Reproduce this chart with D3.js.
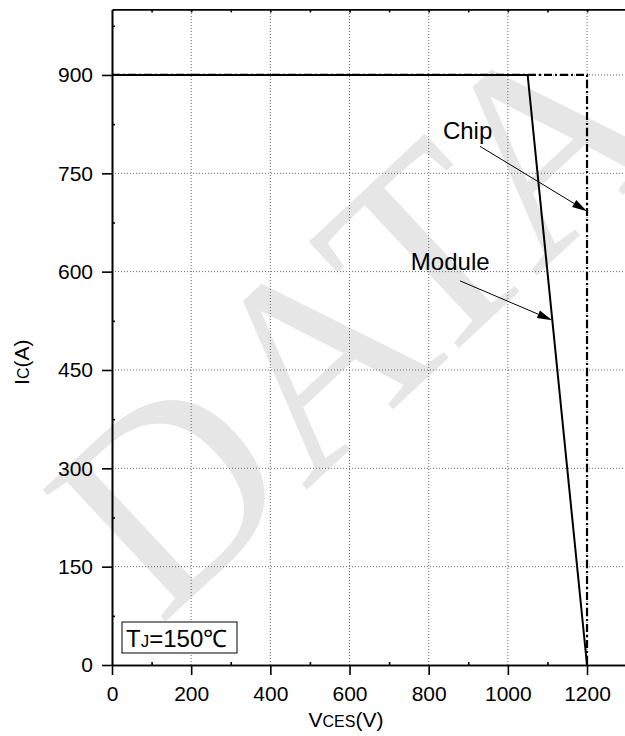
<!DOCTYPE html>
<html>
<head>
<meta charset="utf-8">
<script src="https://cdn.jsdelivr.net/npm/d3@7"></script>
<style>
  body { margin: 0; background: #fff; }
  svg { display: block; }
  text { font-family: Arial, "Liberation Sans", Helvetica, sans-serif; }
</style>
</head>
<body>
<svg id="chart" width="625" height="736"></svg>
<script>
// data (VCES in V, IC in A)
const moduleV = [0, 1050, 1200];
const moduleI = [900, 900, 0];
const chipV = [0, 1200, 1200];
const chipI = [900, 900, 0];

const xTicks = [0, 200, 400, 600, 800, 1000, 1200];
const yTicks = [0, 150, 300, 450, 600, 750, 900];

// annotations: label anchor, arrow tail, arrow head (data units)
const noteText = ['Chip', 'Module'];
const noteV = [836, 755];
const noteI = [803, 602];
const tailV = [930, 879];
const tailI = [791, 586];
const headV = [1200, 1112];
const headI = [692, 526];

const FONT = 'Arial, "Liberation Sans", Helvetica, sans-serif';

const svg = d3.select('#chart');

const x = d3.scaleLinear().domain([0, 1300]).range([112, 626.6]);
const y = d3.scaleLinear().domain([0, 1000]).range([665, 9.4]);

// watermark
svg.append('text')
    .attr('transform', 'translate(358,318) rotate(-43)')
    .attr('text-anchor', 'middle')
    .attr('dy', '0.33em')
    .style('font-family', '"Liberation Serif", "Times New Roman", serif')
    .attr('font-size', 275)
    .attr('fill', '#e6e6e6')
    .text('DATA');

// grid
const grid = svg.append('g')
    .attr('stroke', '#666')
    .attr('stroke-width', 1)
    .attr('stroke-dasharray', '1,2');

grid.selectAll('.gx')
    .data(xTicks.filter(d => d > 0))
    .enter()
    .append('line')
    .attr('x1', d => x(d)).attr('x2', d => x(d))
    .attr('y1', y(0)).attr('y2', y(1000));

grid.selectAll('.gy')
    .data(yTicks.filter(d => d > 0))
    .enter()
    .append('line')
    .attr('y1', d => y(d)).attr('y2', d => y(d))
    .attr('x1', x(0)).attr('x2', x(1300));

// curves
const line = d3.line()
    .x(d => x(d[0]))
    .y(d => y(d[1]));

svg.append('path')
    .datum(chipV.map((v, i) => [v, chipI[i]]))
    .attr('d', line)
    .attr('fill', 'none')
    .attr('stroke', '#000')
    .attr('stroke-width', 2.2)
    .attr('stroke-dasharray', '8,3,2,3');

svg.append('path')
    .datum(moduleV.map((v, i) => [v, moduleI[i]]))
    .attr('d', line)
    .attr('fill', 'none')
    .attr('stroke', '#000')
    .attr('stroke-width', 2);

// axes
const axisStyle = g => {
    g.attr('font-family', FONT);
    g.select('.domain').attr('stroke-width', 1.6);
    g.selectAll('.tick line').attr('stroke-width', 1.6);
    g.selectAll('.tick text')
        .attr('font-size', 21)
        .attr('fill', '#000');
};

svg.append('g')
    .attr('transform', `translate(0,${y(0)})`)
    .call(d3.axisBottom(x).tickValues(xTicks).tickFormat(d3.format('d')).tickSize(10).tickSizeOuter(0).tickPadding(11))
    .call(axisStyle);

svg.append('g')
    .attr('transform', `translate(${x(0)},0)`)
    .call(d3.axisLeft(y).tickValues(yTicks).tickFormat(d3.format('d')).tickSize(10).tickSizeOuter(0).tickPadding(9))
    .call(axisStyle);

// top border with inward ticks
svg.append('g')
    .attr('transform', `translate(0,${y(1000)})`)
    .call(d3.axisBottom(x).tickValues(d3.range(100, 1301, 100)).tickSize(3).tickSizeOuter(0).tickFormat(''))
    .call(axisStyle);

// minor ticks (inward)
svg.append('g')
    .attr('transform', `translate(0,${y(0)})`)
    .call(d3.axisTop(x).tickValues(d3.range(100, 1301, 200)).tickSize(3).tickSizeOuter(0).tickFormat(''))
    .call(axisStyle);

svg.append('g')
    .attr('transform', `translate(${x(0)},0)`)
    .call(d3.axisRight(y).tickValues(d3.range(75, 1000, 150)).tickSize(3).tickSizeOuter(0).tickFormat(''))
    .call(axisStyle);

// axis titles
const ylab = svg.append('text')
    .attr('transform', `translate(29,${(y(0) + y(1000)) / 2 + 25}) rotate(-90)`)
    .attr('text-anchor', 'middle')
    .attr('fill', '#000');
ylab.append('tspan').attr('font-size', 21).text('I');
ylab.append('tspan').attr('font-size', 16).text('C');
ylab.append('tspan').attr('font-size', 21).text('(A)');

const xlab = svg.append('text')
    .attr('x', 346)
    .attr('y', 727)
    .attr('text-anchor', 'middle')
    .attr('fill', '#000');
xlab.append('tspan').attr('font-size', 21).text('V');
xlab.append('tspan').attr('font-size', 16).text('CES');
xlab.append('tspan').attr('font-size', 21).text('(V)');

// annotations
const notes = svg.append('g');
noteText.forEach((t, i) => {
    notes.append('text')
        .attr('x', x(noteV[i]))
        .attr('y', y(noteI[i]))
        .attr('font-size', 24)
        .attr('fill', '#000')
        .text(t);

    const x1 = x(tailV[i]), y1 = y(tailI[i]);
    const x2 = x(headV[i]), y2 = y(headI[i]);
    const ang = Math.atan2(y2 - y1, x2 - x1);
    const len = 15, half = 4;
    const bx = x2 - len * Math.cos(ang), by = y2 - len * Math.sin(ang);

    notes.append('line')
        .attr('x1', x1).attr('y1', y1)
        .attr('x2', bx).attr('y2', by)
        .attr('stroke', '#000')
        .attr('stroke-width', 1);

    notes.append('path')
        .attr('d', `M${x2},${y2}L${bx - half * Math.sin(ang)},${by + half * Math.cos(ang)}L${bx + half * Math.sin(ang)},${by - half * Math.cos(ang)}Z`)
        .attr('fill', '#000');
});

// temperature box
const tj = svg.append('g');
tj.append('rect')
    .attr('x', 122).attr('y', 622)
    .attr('width', 115).attr('height', 31)
    .attr('fill', '#fff')
    .attr('stroke', '#000')
    .attr('stroke-width', 1);
const tjText = tj.append('text')
    .attr('x', 126).attr('y', 647)
    .attr('fill', '#000');
tjText.append('tspan').attr('font-size', 24).text('T');
tjText.append('tspan').attr('font-size', 17).text('J');
tjText.append('tspan').attr('font-size', 24).text('=150℃');
</script>
</body>
</html>
